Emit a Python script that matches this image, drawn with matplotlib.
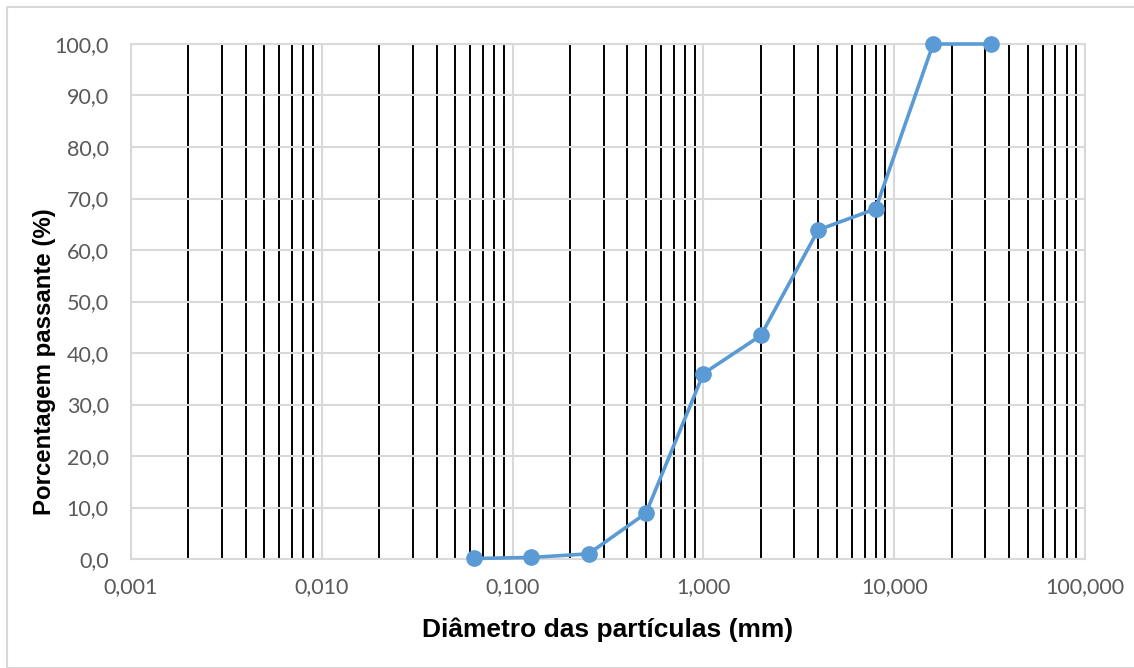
import matplotlib
matplotlib.use("Agg")
import matplotlib.pyplot as plt
from matplotlib.ticker import LogLocator, FixedLocator, NullFormatter
from matplotlib.patches import Rectangle

# Data
diametro_mm = [0.063, 0.125, 0.25, 0.5, 1.0, 2.0, 4.0, 8.0, 16.0, 32.0]
passante_pct = [0.1, 0.3, 1.0, 8.9, 36.0, 43.4, 63.9, 68.0, 100.0, 100.0]
x_ticks = [0.001, 0.01, 0.1, 1, 10, 100]
x_tick_labels = ["0,001", "0,010", "0,100", "1,000", "10,000", "100,000"]
y_ticks = [0, 10, 20, 30, 40, 50, 60, 70, 80, 90, 100]
y_tick_labels = [f"{v:.1f}".replace(".", ",") for v in y_ticks]
x_label = "Diâmetro das partículas (mm)"
y_label = "Porcentagem passante (%)"

W, H = 1134, 668
fig = plt.figure(figsize=(W / 100, H / 100), dpi=100)
# outer border
fig.patches.append(Rectangle((7 / W, 0), 2, 1 - 7 / H, transform=fig.transFigure,
                             fill=False, edgecolor="#D9D9D9", linewidth=1.5))

left, right, top, bottom = 131, 1085, 44, 559
ax = fig.add_axes([left / W, 1 - bottom / H, (right - left) / W, (bottom - top) / H])

ax.set_xscale("log")
ax.set_xlim(0.001, 100)
ax.set_ylim(0, 100)

ax.xaxis.set_major_locator(FixedLocator(x_ticks))
ax.set_xticks(x_ticks)
ax.set_xticklabels(x_tick_labels)
ax.xaxis.set_minor_locator(LogLocator(base=10, subs=[2, 3, 4, 5, 6, 7, 8, 9], numticks=20))
ax.xaxis.set_minor_formatter(NullFormatter())
ax.set_yticks(y_ticks)
ax.set_yticklabels(y_tick_labels)

ax.grid(which="major", axis="both", color="#D9D9D9", linewidth=1.5, zorder=0)
ax.grid(which="minor", axis="x", color="black", linewidth=1.4, zorder=1)
ax.set_axisbelow(True)

for s in ax.spines.values():
    s.set_color("#D9D9D9")
    s.set_linewidth(1.5)

ax.tick_params(which="both", length=0)
ax.tick_params(axis="x", pad=13, labelsize=15.5, labelcolor="#595959")
ax.tick_params(axis="y", pad=16, labelsize=15.5, labelcolor="#595959")
for lab in ax.get_xticklabels() + ax.get_yticklabels():
    lab.set_family("Lato")

ax.plot(diametro_mm, passante_pct, color="#5B9BD5", linewidth=2.6,
        marker="o", markersize=11, zorder=5, clip_on=False)

ax.set_xlabel(x_label, fontsize=19, fontweight="bold", family="Liberation Sans")
ax.set_ylabel(y_label, fontsize=17.3, fontweight="bold", family="Liberation Sans")
ax.xaxis.set_label_coords(0.5, (559 - 617) / 515)
ax.yaxis.set_label_coords((56 - 131) / 954, (559 - 361.5) / 515)

fig.savefig("out.png", dpi=100)
